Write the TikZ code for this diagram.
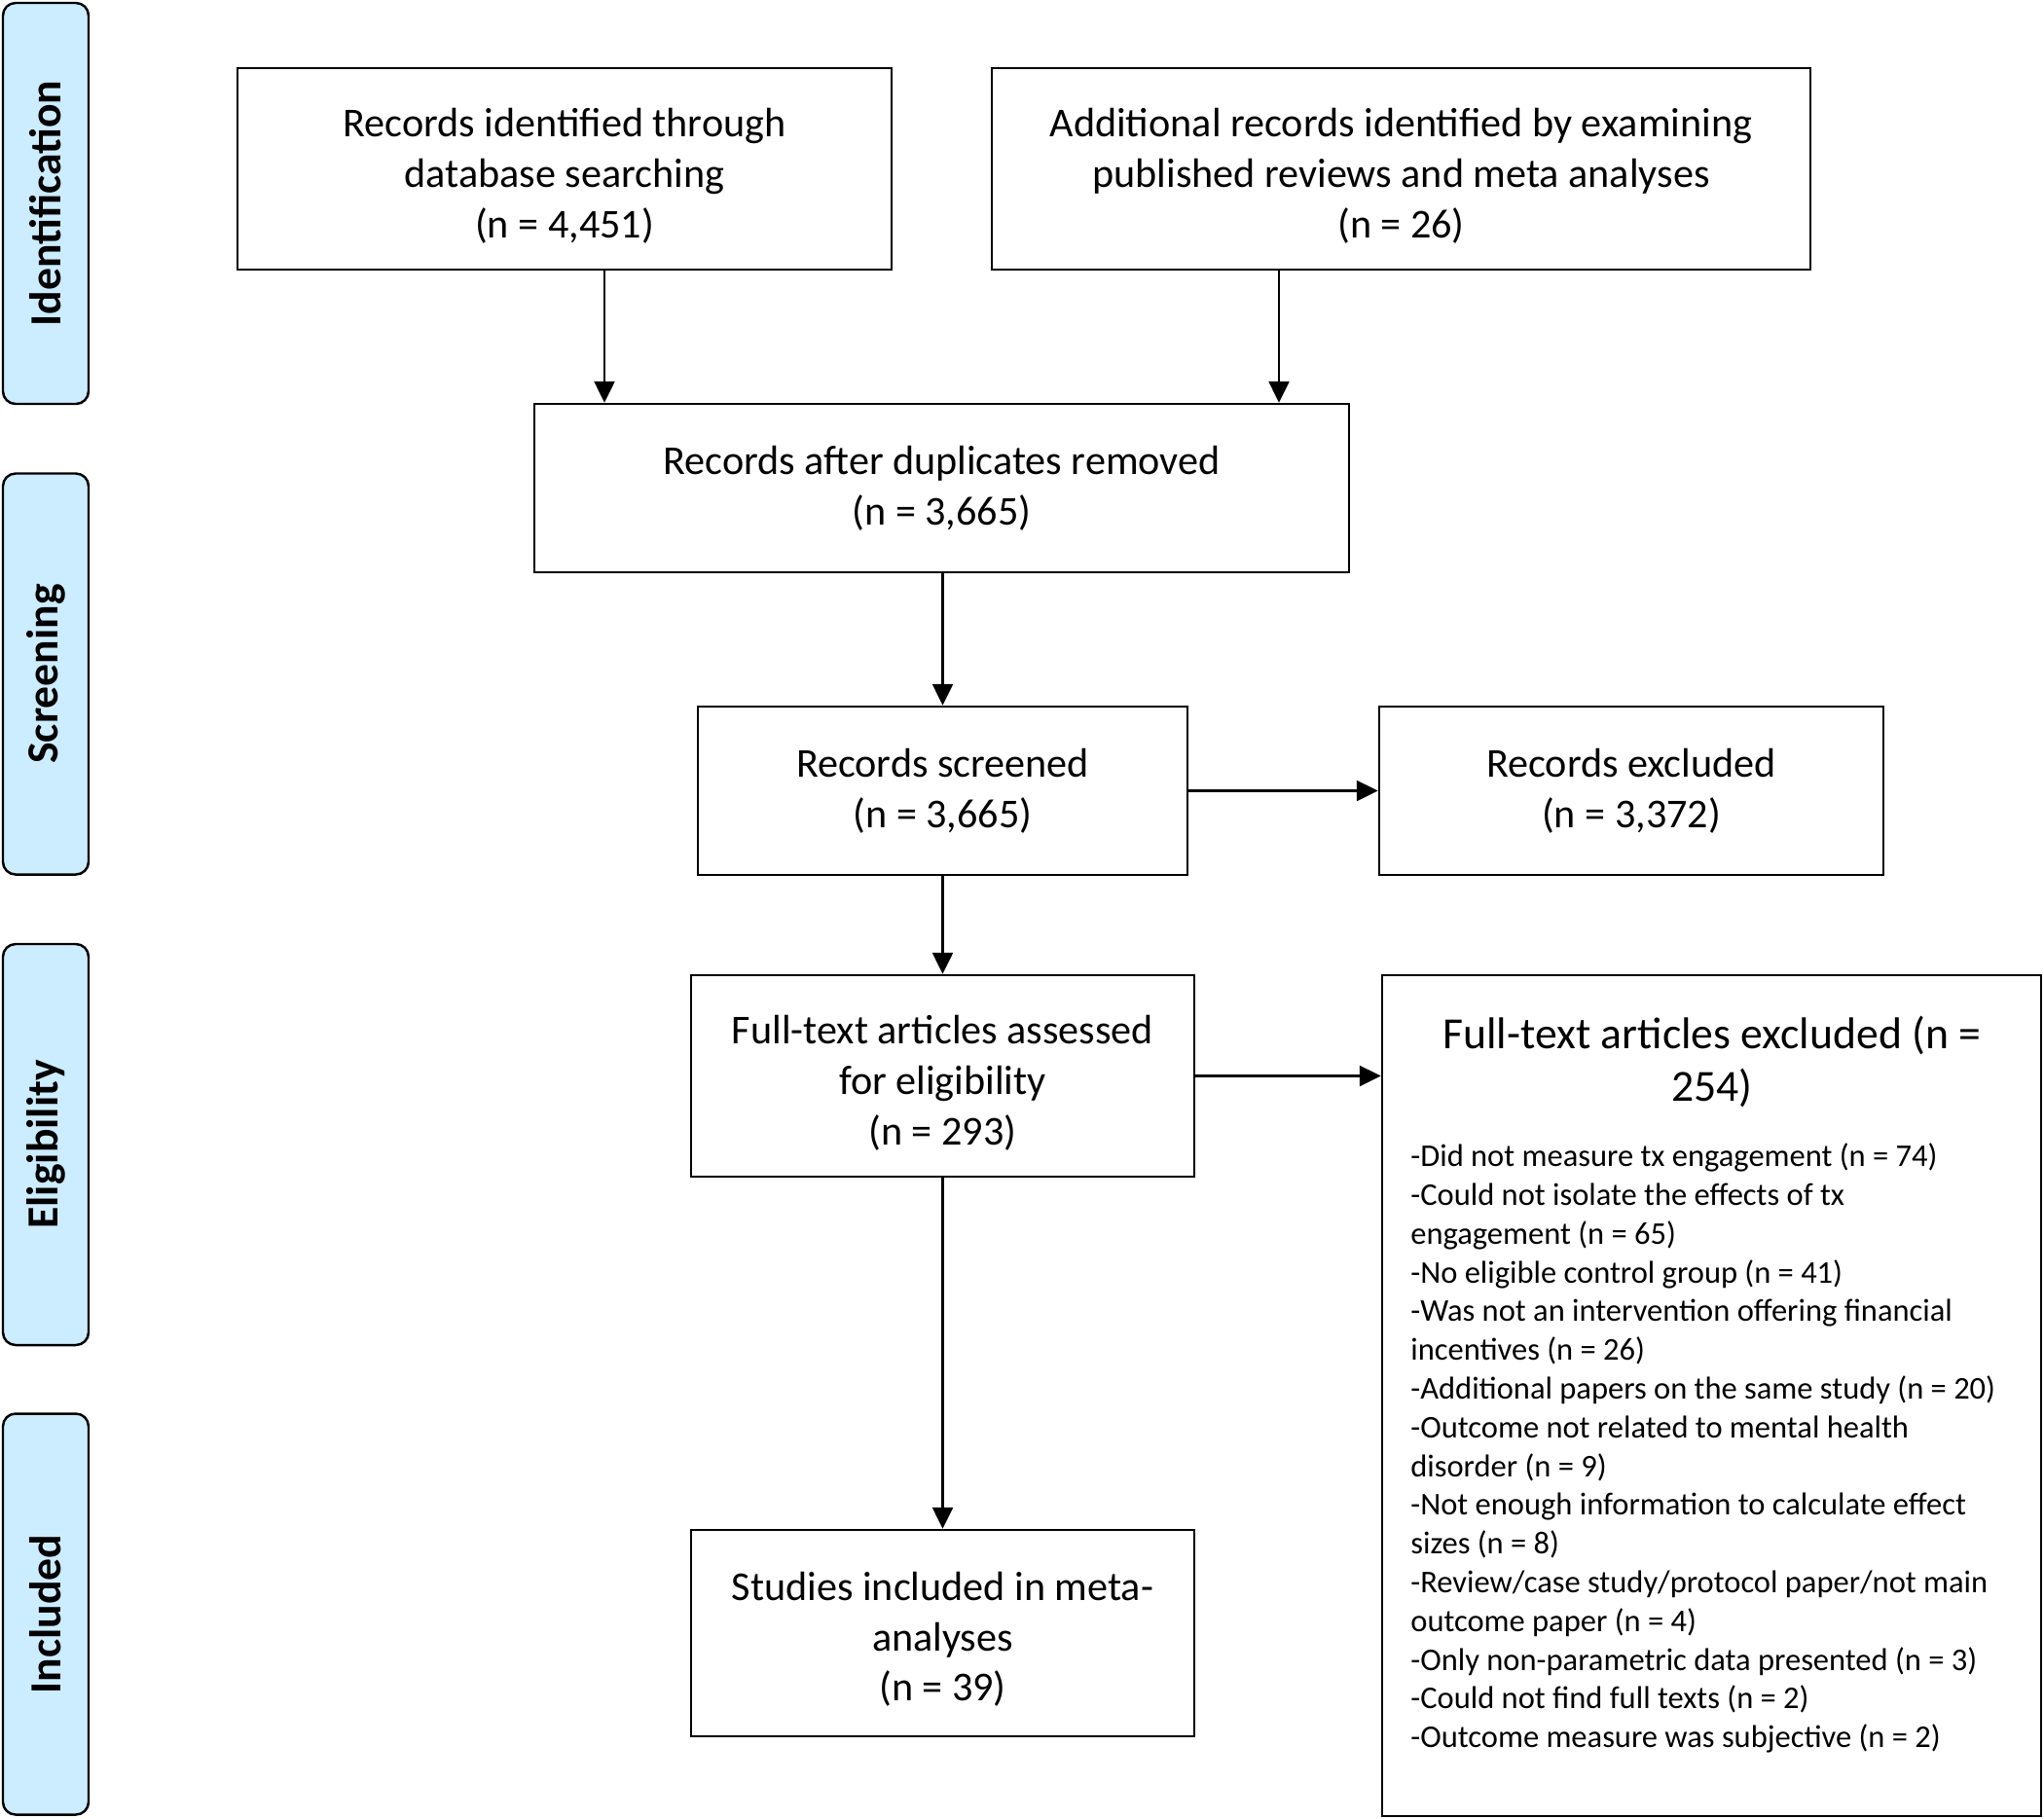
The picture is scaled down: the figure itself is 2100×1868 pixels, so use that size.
\documentclass[tikz,border=0pt]{standalone}
\usepackage{fontspec}
\setmainfont{Carlito}
\usepackage{xcolor}
\usepackage{tikz}
\usetikzlibrary{arrows.meta,positioning,shapes,calc}
\definecolor{phaseblue}{RGB}{204,236,255}

\begin{document}
\begin{tikzpicture}[x=0.2mm,y=-0.2mm,
    box/.style={rectangle, draw, line width=1.4pt, align=center, inner sep=0pt, font=\fontsize{24}{29.4}\selectfont},
    phase/.style={rectangle, rounded corners=2.6mm, draw, line width=1.4pt, fill=phaseblue, rotate=90, minimum width=82.4mm, minimum height=17.6mm, font=\fontsize{26}{30}\selectfont\bfseries},
    arr/.style={line width=1.4pt, -{Triangle[length=4.4mm,width=4.2mm]}}]
    \useasboundingbox (0,0) rectangle (2100,1868);
    % phases
    \node (ident) at (47,209) [phase] {Identification};
    \node (screening) at (47,692.5) [phase] {Screening};
    \node (elig) at (47,1176) [phase] {Eligibility};
    \node (incl) at (47,1658.5) [phase] {Included};
    % boxes (three-line texts sit a little low in their boxes)
    \node (recdb) at (580,173.5) [box, minimum width=134.4mm, minimum height=41.4mm] {\rule{0pt}{25pt}Records identified through\\database searching\\(n = 4,451)};
    \node (recadd) at (1439.5,173.5) [box, minimum width=168.2mm, minimum height=41.4mm] {\rule{0pt}{25pt}Additional records identified by examining\\published reviews and meta analyses\\(n = 26)};
    \node (dedup) at (967.5,501.5) [box, minimum width=167.4mm, minimum height=34.6mm] {Records after duplicates removed\\(n = 3,665)};
    \node (screen) at (968.5,812.5) [box, minimum width=100.6mm, minimum height=34.6mm] {Records screened\\(n = 3,665)};
    \node (excl) at (1676,812.5) [box, minimum width=103.6mm, minimum height=34.6mm] {Records excluded\\(n = 3,372)};
    \node (fulltext) at (968.5,1105.5) [box, minimum width=103.4mm, minimum height=41.4mm] {\rule{0pt}{25pt}Full-text articles assessed\\for eligibility\\(n = 293)};
    \node (included) at (968.5,1678) [box, minimum width=103.4mm, minimum height=42.4mm] {\rule{0pt}{24pt}Studies included in meta-\\analyses\\(n = 39)};
    \node (exclft) at (1758.5,1434) [box, minimum width=135.4mm, minimum height=172.8mm] {};
    \node (exclhead) at (1759,1091) [align=center, inner sep=0pt, font=\fontsize{26}{30.7}\selectfont] {Full-text articles excluded (n =\\254)};
    \node (excllist) at (1449,1488) [anchor=west, align=left, inner sep=0pt, font=\fontsize{18.5}{22.65}\selectfont] {-Did not measure tx engagement (n = 74)\\-Could not isolate the effects of tx\\engagement (n = 65)\\-No eligible control group (n = 41)\\-Was not an intervention offering financial\\incentives (n = 26)\\-Additional papers on the same study (n = 20)\\-Outcome not related to mental health\\disorder (n = 9)\\-Not enough information to calculate effect\\sizes (n = 8)\\-Review/case study/protocol paper/not main\\outcome paper (n = 4)\\-Only non-parametric data presented (n = 3)\\-Could not find full texts (n = 2)\\-Outcome measure was subjective (n = 2)};
    % arrows
    \coordinate (xa) at (621,0);
    \coordinate (xb) at (1314,0);
    \draw[arr] (recdb.south -| xa) -- (dedup.north -| xa);
    \draw[arr] (recadd.south -| xb) -- (dedup.north -| xb);
    \draw[arr] (dedup.south -| screen) -- (screen.north);
    \draw[arr] (screen.east) -- (excl.west);
    \draw[arr] (screen.south) -- (fulltext.north -| screen);
    \draw[arr] (fulltext.east) -- (fulltext.east -| exclft.west);
    \draw[arr] (fulltext.south) -- (included.north);
    \end{tikzpicture}
\end{document}
